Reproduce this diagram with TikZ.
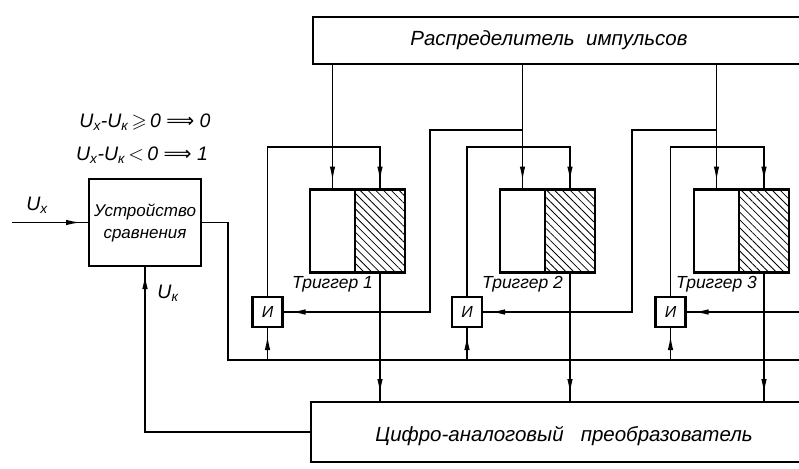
\documentclass[tikz,border=0pt]{standalone}
\usepackage{fontspec}
\usepackage{amssymb}
\setmainfont{Liberation Sans}
\newfontfamily\arrowfont{DejaVu Sans}
\usetikzlibrary{arrows.meta,decorations.markings,patterns.meta}

\tikzset{
  wire/.style={line width=1.1pt},
  feed/.style={wire, postaction={decorate},
    decoration={markings, mark=at position -9pt with {\arrow{Latex[length=14pt,width=5.5pt]}}}},
  unit/.style={draw, line width=1.6pt, inner sep=0pt, outer sep=0pt},
  half/.style={draw, line width=2.2pt, minimum height=83pt, inner sep=0pt, outer sep=0pt},
  plainhalf/.style={half, minimum width=45pt},
  hatchhalf/.style={half, minimum width=50pt,
    pattern={Lines[angle=-45,distance=5.5pt,line width=0.8pt]}},
  andgate/.style={draw, line width=2.2pt, minimum size=30pt, inner sep=0pt, outer sep=0pt,
    font=\itshape\fontsize{16}{16}\selectfont},
  caption/.style={font=\itshape\fontsize{20.5}{22}\selectfont, inner sep=0pt},
  tag/.style={font=\itshape\fontsize{17.5}{17.5}\selectfont, inner sep=1pt},
  sign/.style={font=\itshape\fontsize{19.5}{19.5}\selectfont, inner sep=1pt}
}

\begin{document}
\begin{tikzpicture}[x=1pt,y=-1pt]
  \clip (0,0) rectangle (799,468);

  % blocks
  \node[unit, minimum width=540pt, minimum height=47pt, anchor=north west] (dist) at (313,17) {};
  \node[caption] (distname) at (549,40) {Распределитель\ \ импульсов};
  \node[unit, minimum width=520pt, minimum height=60pt, anchor=north west] (dac) at (311,402) {};
  \node[caption] (dacname) at (564,436) {Цифро-аналоговый\ \ \ преобразователь};
  \node[unit, minimum width=112pt, minimum height=87pt, align=center,
    font=\itshape\fontsize{17}{22}\selectfont] (cmp) at (145,222.5) {Устройство\\сравнения};

  % triggers
  \node[plainhalf, anchor=west] (trg1) at (310,231) {};
  \node[hatchhalf, anchor=west] (hat1) at (trg1.east) {};
  \node[plainhalf, anchor=west] (trg2) at (500,231) {};
  \node[hatchhalf, anchor=west] (hat2) at (trg2.east) {};
  \node[plainhalf, anchor=west] (trg3) at (694,231) {};
  \node[hatchhalf, anchor=west] (hat3) at (trg3.east) {};
  \node[tag, anchor=north] (name1) at ([yshift=-3pt]trg1.south) {Триггер 1};
  \node[tag, anchor=north] (name2) at ([yshift=-3pt]trg2.south) {Триггер 2};
  \node[tag, anchor=north] (name3) at ([yshift=-3pt]trg3.south) {Триггер 3};

  % AND gates
  \node[andgate] (and1) at (267.5,312) {И};
  \node[andgate] (and2) at (467,312) {И};
  \node[andgate] (and3) at (670.5,312) {И};

  % rules and inputs
  \node[sign] (rule0) at (145,122)
    {U\textsubscript{x}-U\textsubscript{к}\,$\geqslant$\,0\ {\arrowfont\upshape ⟹}\ 0};
  \node[sign] (rule1) at (142,155)
    {U\textsubscript{x}-U\textsubscript{к}\,$<$\,0\ {\arrowfont\upshape ⟹}\ 1};
  \node[sign] (uxname) at (37,205) {U\textsubscript{x}};
  \node[sign] (ukname) at (168,293) {U\textsubscript{к}};

  \coordinate (loop) at (0,147);
  \coordinate (tap) at (0,130);
  \coordinate (bus) at (228,360);
  \coordinate (busend) at (810,360);
  \coordinate (fork1) at (430,0);
  \coordinate (fork2) at (632,0);
  \coordinate (edge) at (810,0);
  \coordinate (ux) at (12,222.5);

  % connections
  \foreach \i in {1,2,3} {
    \draw[feed] (trg\i.north |- dist.south) -- (trg\i.north);
    \draw[feed] (and\i.north) |- (hat\i.north |- loop) -- (hat\i.north);
    \draw[feed] (hat\i.south) -- (hat\i.south |- dac.north);
    \draw[feed] (and\i.south |- bus) -- (and\i.south);
  }
  \draw[feed] (trg2.north |- tap) -| (and1.east -| fork1) -- (and1.east);
  \draw[feed] (trg3.north |- tap) -| (and2.east -| fork2) -- (and2.east);
  \draw[feed] (and3.east -| edge) -- (and3.east);
  \draw[wire] (cmp.east) -| (bus) -- (busend);
  \draw[feed] (dac.west) -| (cmp.south);
  \draw[feed] (ux) -- (cmp.west);
\end{tikzpicture}
\end{document}
